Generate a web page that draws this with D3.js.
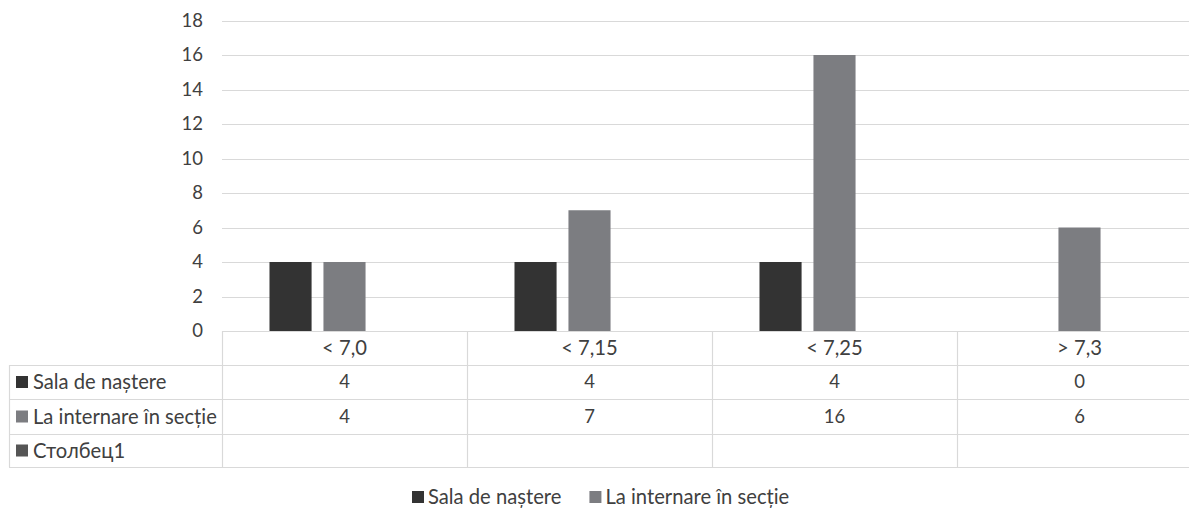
<!DOCTYPE html>
<html>
<head>
<meta charset="utf-8">
<script src="https://cdn.jsdelivr.net/npm/d3@7/dist/d3.min.js"></script>
<style>
  html, body { margin: 0; padding: 0; background: #fff; }
  svg { display: block; }
  text { font-family: Lato, "Open Sans", sans-serif; fill: #404040; }
</style>
</head>
<body>
<svg id="chart" width="1189" height="508"></svg>
<script>
// pH intervals and counts per series
const categories = ["< 7,0", "< 7,15", "< 7,25", "> 7,3"];
const seriesNames = ["Sala de naștere", "La internare în secție", "Столбец1"];
const salaDeNastere = [4, 4, 4, 0];
const laInternare = [4, 7, 16, 6];
const stolbec1 = [null, null, null, null];
const yTicks = [0, 2, 4, 6, 8, 10, 12, 14, 16, 18];
const legendNames = ["Sala de naștere", "La internare în secție"];

const seriesValues = [salaDeNastere, laInternare, stolbec1];
const colors = ["#333333", "#7c7d81", "#555555"];

const svg = d3.select("#chart");
const plotLeft = 222, plotRight = 1202, plotTop = 20.5, plotBottom = 331;
const tableLeft = 9;
const rowH = [plotBottom, 365, 399, 434, 467];
const numSize = 18.5, textSize = 20.2;

const x = d3.scaleBand().domain(categories).range([plotLeft, plotRight]).paddingInner(0).paddingOuter(0);
const xs = d3.scaleBand().domain(d3.range(seriesNames.length))
  .range([0, x.bandwidth()]).paddingInner(0.22).paddingOuter(0.88);
const y = d3.scaleLinear().domain([0, 18]).range([plotBottom, plotTop]);

// gridlines
svg.append("g").selectAll("line").data(yTicks.filter(d => d > 0)).join("line")
  .attr("x1", plotLeft).attr("x2", plotRight)
  .attr("y1", d => Math.round(y(d)) + 0.5).attr("y2", d => Math.round(y(d)) + 0.5)
  .attr("stroke", "#d9d9d9").attr("stroke-width", 1);

// y-axis labels
svg.append("g").selectAll("text").data(yTicks).join("text")
  .attr("x", 203).attr("y", d => y(d))
  .attr("dy", "0.35em").attr("text-anchor", "end")
  .attr("font-size", numSize).text(d => d);

// bars
const groups = svg.append("g").selectAll("g").data(seriesValues).join("g")
  .attr("fill", (d, i) => colors[i]);
groups.selectAll("rect")
  .data((vals, si) => vals.map((v, ci) => ({ v, ci, si })).filter(d => d.v))
  .join("rect")
  .attr("x", d => x(categories[d.ci]) + xs(d.si))
  .attr("width", xs.bandwidth())
  .attr("y", d => y(d.v))
  .attr("height", d => y(0) - y(d.v));

// data table grid
const grid = svg.append("g").attr("stroke", "#d9d9d9").attr("stroke-width", 1.2);
grid.append("line").attr("x1", plotLeft).attr("x2", plotRight).attr("y1", rowH[0] + 0.5).attr("y2", rowH[0] + 0.5);
for (let r = 1; r < rowH.length; r++) {
  grid.append("line").attr("x1", tableLeft).attr("x2", plotRight)
    .attr("y1", rowH[r] + 0.5).attr("y2", rowH[r] + 0.5);
}
categories.forEach(c => {
  grid.append("line").attr("x1", Math.round(x(c)) + 0.5).attr("x2", Math.round(x(c)) + 0.5)
    .attr("y1", rowH[0]).attr("y2", rowH[4]);
});
grid.append("line").attr("x1", tableLeft + 0.5).attr("x2", tableLeft + 0.5).attr("y1", rowH[1]).attr("y2", rowH[4]);

// category header labels
svg.append("g").selectAll("text").data(categories).join("text")
  .attr("x", d => x(d) + x.bandwidth() / 2)
  .attr("y", (rowH[0] + rowH[1]) / 2).attr("dy", "0.35em")
  .attr("text-anchor", "middle").attr("font-size", textSize).text(d => d);

// row labels with keys, and values
seriesNames.forEach((name, i) => {
  const cy = (rowH[i + 1] + rowH[i + 2]) / 2;
  svg.append("rect").attr("x", 16).attr("y", cy - 6).attr("width", 12).attr("height", 12).attr("fill", colors[i]);
  svg.append("text").attr("x", 33).attr("y", cy).attr("dy", "0.35em")
    .attr("font-size", textSize).text(name);
  seriesValues[i].forEach((v, ci) => {
    if (v === null) return;
    svg.append("text").attr("x", x(categories[ci]) + x.bandwidth() / 2)
      .attr("y", cy).attr("dy", "0.35em").attr("text-anchor", "middle")
      .attr("font-size", numSize).text(v);
  });
});

// legend
const legend = svg.append("g").attr("transform", "translate(412,497)");
let lx = 0;
legendNames.forEach((name, i) => {
  legend.append("rect").attr("x", lx).attr("y", -6).attr("width", 12).attr("height", 12).attr("fill", colors[i]);
  const t = legend.append("text").attr("x", lx + 16).attr("y", 0).attr("dy", "0.35em")
    .attr("font-size", textSize).text(name);
  lx += 16 + t.node().getComputedTextLength() + 28;
});
</script>
</body>
</html>
